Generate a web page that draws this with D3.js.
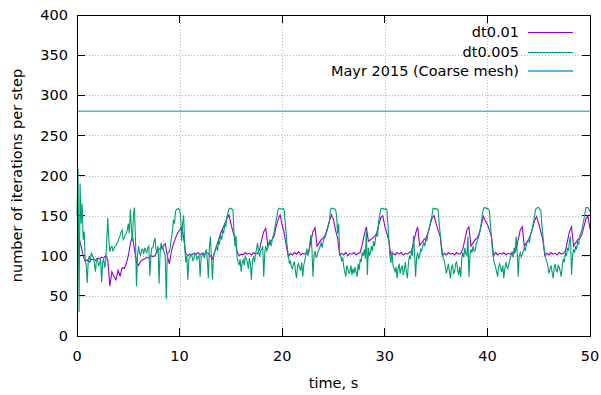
<!DOCTYPE html>
<html>
<head>
<meta charset="utf-8">
<script src="https://cdn.jsdelivr.net/npm/d3@7"></script>
<style>
  body { margin: 0; background: #fff; }
  text { font-family: "DejaVu Sans", sans-serif; }
</style>
</head>
<body>
<script>
// datos
const dt001Step = 0.2;   // paso de muestreo de dt0.01 (s)
const dt0005Step = 0.1;  // paso de muestreo de dt0.005 (s)

const dt001Values = [
  125, 122, 112, 100, 93, 95, 92, 95, 96, 94, 97, 96, 98, 97, 100, 95, 62, 80, 74, 70, 82, 75, 85, 84, 90,
  100, 115, 125, 108, 92, 88, 93, 95, 96, 98, 97, 100, 99, 100, 106, 108, 110, 112, 115, 100, 90, 105, 115, 122, 128,
  132, 136, 122, 103, 100, 102, 101, 103, 102, 104, 101, 103, 102, 104, 103, 100, 96, 104, 112, 120, 128, 134, 140, 146, 151,
  140, 130, 122, 105, 100, 102, 101, 104, 102, 103, 101, 104, 102, 103, 108, 120, 130, 134, 112, 116, 120, 124, 136, 145, 151,
  138, 128, 112, 99, 103, 101, 104, 102, 105, 101, 103, 102, 104, 106, 118, 130, 135, 112, 116, 120, 122, 126, 134, 143, 151,
  145, 132, 122, 101, 103, 101, 104, 100, 103, 102, 104, 101, 103, 104, 114, 126, 136, 118, 120, 122, 124, 128, 138, 147, 150,
  137, 128, 118, 100, 103, 101, 104, 102, 104, 101, 103, 102, 104, 106, 116, 128, 136, 113, 116, 120, 122, 128, 138, 147, 150,
  140, 132, 124, 100, 103, 101, 104, 102, 103, 101, 104, 102, 103, 108, 120, 132, 136, 112, 116, 120, 122, 128, 138, 149, 144,
  139, 132, 124, 100, 104, 101, 103, 102, 104, 101, 103, 102, 104, 103, 108, 120, 132, 136, 112, 116, 120, 126, 134, 144, 149,
  140, 130, 120, 100, 103, 101, 104, 102, 103, 101, 104, 102, 103, 106, 118, 130, 136, 112, 116, 120, 122, 126, 136, 146, 150,
  133
];

const dt0005Values = [
  // 0 - 4.9 s
  150, 208, 30, 190, 140, 165, 120, 130, 95, 88, 66, 95, 100, 92, 104, 100, 98, 90, 80, 96,
  95, 88, 90, 96, 67, 92, 96, 85, 94, 120, 147, 120, 105, 110, 112, 106, 108, 112, 113, 116,
  118, 122, 125, 130, 132, 120, 122, 126, 128, 132,
  // 5 - 9.9 s
  140, 128, 158, 135, 118, 150, 160, 120, 62, 100, 112, 104, 100, 108, 108, 102, 110, 106, 104, 110,
  112, 75, 100, 110, 110, 118, 122, 108, 105, 112, 65, 104, 116, 108, 110, 104, 100, 46, 98, 105,
  105, 112, 122, 130, 145, 140, 155, 158, 158, 159,
  // 10 - 14.9 s
  157, 150, 118, 140, 150, 110, 92, 100, 70, 96, 98, 102, 100, 94, 96, 103, 101, 95, 98, 100,
  74, 98, 100, 104, 97, 102, 108, 96, 72, 110, 124, 100, 70, 98, 104, 108, 112, 106, 118, 115,
  125, 120, 132, 128, 140, 136, 148, 152, 158, 159,
  // 15 - 19.9 s
  159, 158, 157, 130, 112, 125, 98, 92, 88, 96, 80, 92, 95, 88, 100, 96, 92, 84, 97, 90,
  70, 94, 98, 92, 102, 108, 116, 104, 99, 106, 108, 112, 74, 104, 112, 106, 110, 116, 120, 112,
  117, 124, 128, 136, 143, 150, 158, 159, 159, 158,
  // 20 - 24.9 s
  158, 159, 157, 140, 125, 110, 100, 90, 94, 86, 84, 90, 92, 80, 72, 88, 90, 84, 82, 92,
  74, 88, 94, 100, 109, 100, 104, 116, 126, 108, 74, 100, 106, 98, 100, 106, 108, 112, 116, 110,
  118, 122, 124, 128, 132, 138, 143, 158, 159, 159,
  // 25 - 29.9 s
  159, 158, 158, 150, 128, 140, 104, 100, 93, 98, 86, 80, 74, 88, 84, 78, 80, 88, 76, 84,
  78, 86, 80, 74, 90, 82, 96, 92, 104, 100, 108, 96, 130, 76, 110, 100, 104, 112, 106, 118,
  112, 122, 128, 124, 143, 150, 158, 159, 159, 158,
  // 30 - 34.9 s
  158, 159, 157, 140, 120, 100, 91, 106, 88, 84, 80, 86, 72, 84, 90, 78, 84, 88, 76, 82,
  92, 80, 72, 90, 100, 96, 106, 100, 125, 104, 74, 98, 104, 96, 100, 108, 106, 112, 116, 112,
  122, 118, 128, 132, 138, 145, 150, 159, 159, 158,
  // 35 - 39.9 s
  159, 158, 157, 140, 128, 115, 106, 96, 94, 86, 78, 84, 90, 80, 72, 86, 88, 78, 80, 90,
  92, 82, 76, 86, 74, 96, 104, 98, 110, 102, 100, 124, 74, 100, 108, 104, 112, 106, 106, 114,
  118, 122, 126, 132, 140, 150, 158, 160, 160, 159,
  // 40 - 44.9 s
  159, 158, 156, 138, 122, 105, 96, 90, 86, 80, 74, 86, 90, 84, 80, 88, 72, 84, 92, 86,
  84, 90, 96, 100, 104, 98, 110, 104, 124, 106, 74, 100, 104, 98, 102, 106, 110, 106, 114, 118,
  120, 116, 126, 130, 136, 142, 150, 158, 159, 160,
  // 45 - 50 s
  160, 158, 157, 140, 126, 112, 104, 96, 92, 86, 78, 84, 88, 80, 72, 84, 90, 82, 80, 88,
  86, 80, 74, 88, 96, 92, 104, 100, 110, 106, 118, 124, 76, 100, 108, 104, 112, 108, 118, 114,
  124, 128, 132, 138, 145, 152, 160, 160, 160, 158,
  155
];

const mayrValue = 280;

const seriesNames = ["dt0.01", "dt0.005", "Mayr 2015 (Coarse mesh)"];
const seriesColors = ["#9400d3", "#009e73", "#56b4e9"];

const xTicks = [0, 10, 20, 30, 40, 50];
const yTicks = [0, 50, 100, 150, 200, 250, 300, 350, 400];

const width = 601;
const height = 395;
const margin = {top: 15, right: 11, bottom: 59, left: 77};

const svg = d3.select("body")
  .append("svg")
  .attr("width", width)
  .attr("height", height);

const x = d3.scaleLinear().domain([0, 50]).range([margin.left, width - margin.right]);
const y = d3.scaleLinear().domain([0, 400]).range([height - margin.bottom, margin.top]);

// rejilla punteada
svg.append("g")
  .selectAll("line")
  .data(yTicks.slice(1, -1))
  .join("line")
  .attr("x1", x(0)).attr("x2", x(50))
  .attr("y1", d => Math.round(y(d)) + 0.5).attr("y2", d => Math.round(y(d)) + 0.5)
  .attr("stroke", "#b8b8b8")
  .attr("stroke-dasharray", "1,2");

svg.append("g")
  .selectAll("line")
  .data(xTicks.slice(1, -1))
  .join("line")
  .attr("x1", d => Math.round(x(d)) + 0.5).attr("x2", d => Math.round(x(d)) + 0.5)
  .attr("y1", y(0)).attr("y2", y(400))
  .attr("stroke", "#b8b8b8")
  .attr("stroke-dasharray", "1,2");

// ticks hacia adentro en los cuatro lados
const tickLen = 8;
const ticks = svg.append("g").attr("stroke", "#000").attr("shape-rendering", "crispEdges");
yTicks.forEach(v => {
  ticks.append("line").attr("x1", x(0)).attr("x2", x(0) + tickLen).attr("y1", y(v)).attr("y2", y(v));
  ticks.append("line").attr("x1", x(50)).attr("x2", x(50) - tickLen).attr("y1", y(v)).attr("y2", y(v));
});
xTicks.forEach(v => {
  ticks.append("line").attr("x1", x(v)).attr("x2", x(v)).attr("y1", y(0)).attr("y2", y(0) - tickLen);
  ticks.append("line").attr("x1", x(v)).attr("x2", x(v)).attr("y1", y(400)).attr("y2", y(400) + tickLen);
});

// etiquetas de ejes
svg.append("g")
  .selectAll("text")
  .data(yTicks)
  .join("text")
  .attr("x", x(0) - 9)
  .attr("y", d => y(d))
  .attr("dy", "0.36em")
  .attr("text-anchor", "end")
  .style("font-size", "14.5px")
  .text(d => d);

svg.append("g")
  .selectAll("text")
  .data(xTicks)
  .join("text")
  .attr("x", d => x(d))
  .attr("y", 361)
  .attr("text-anchor", "middle")
  .style("font-size", "14.5px")
  .text(d => d);

svg.append("text")
  .attr("x", (x(0) + x(50)) / 2)
  .attr("y", 388)
  .attr("text-anchor", "middle")
  .style("font-size", "14.5px")
  .text("time, s");

svg.append("text")
  .attr("transform", `translate(22, ${(y(0) + y(400)) / 2}) rotate(-90)`)
  .attr("text-anchor", "middle")
  .style("font-size", "14.5px")
  .text("number of iterations per step");

// series
const lineFor = step => d3.line()
  .x((d, i) => x(i * step))
  .y(d => y(d));

svg.append("path")
  .datum(dt001Values)
  .attr("fill", "none")
  .attr("stroke", seriesColors[0])
  .attr("stroke-width", 1.1)
  .attr("d", lineFor(dt001Step));

svg.append("path")
  .datum(dt0005Values)
  .attr("fill", "none")
  .attr("stroke", seriesColors[1])
  .attr("stroke-width", 1.1)
  .attr("d", lineFor(dt0005Step));

svg.append("line")
  .attr("x1", x(0)).attr("x2", x(50))
  .attr("y1", y(mayrValue)).attr("y2", y(mayrValue))
  .attr("stroke", seriesColors[2])
  .attr("stroke-width", 1.6);

// marco
svg.append("rect")
  .attr("x", x(0)).attr("y", y(400))
  .attr("width", x(50) - x(0)).attr("height", y(0) - y(400))
  .attr("fill", "none")
  .attr("stroke", "#000")
  .attr("shape-rendering", "crispEdges");

// leyenda
const legendY = [32, 52, 71];
const legend = svg.append("g")
  .selectAll("g")
  .data(seriesNames)
  .join("g")
  .attr("transform", (d, i) => `translate(0, ${legendY[i]})`);

legend.append("text")
  .attr("x", 519)
  .attr("dy", "0.36em")
  .attr("text-anchor", "end")
  .style("font-size", "14.5px")
  .text(d => d);

legend.append("line")
  .attr("x1", 528).attr("x2", 573)
  .attr("y1", (d, i) => i === 2 ? 0 : 0.5)
  .attr("y2", (d, i) => i === 2 ? 0 : 0.5)
  .attr("stroke", (d, i) => seriesColors[i])
  .attr("stroke-width", (d, i) => i === 2 ? 2 : 1);
</script>
</body>
</html>
